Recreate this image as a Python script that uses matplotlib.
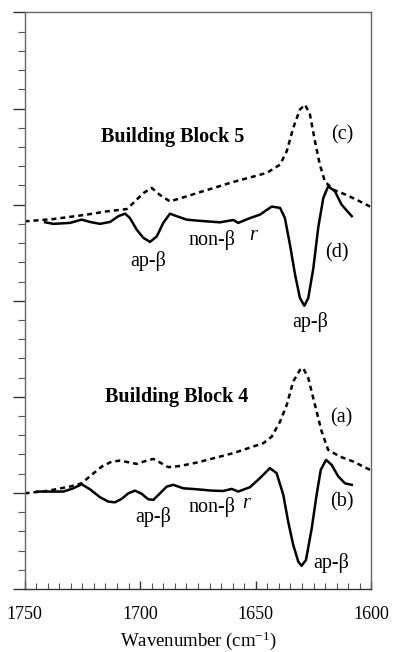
import matplotlib
matplotlib.use("Agg")
import matplotlib.pyplot as plt
from matplotlib.ticker import MultipleLocator

plt.rcParams['font.family'] = ['Liberation Serif', 'DejaVu Serif']
plt.rcParams['mathtext.fontset'] = 'custom'
plt.rcParams['mathtext.rm'] = 'Liberation Serif'
plt.rcParams['mathtext.it'] = 'Liberation Serif:italic'
plt.rcParams['mathtext.bf'] = 'Liberation Serif:bold'

# Curve (c): Building Block 5, dashed
c_x = [1750, 1737.5, 1723.1, 1714.5, 1705.8, 1703, 1698.6, 1695, 1691.4, 1687.1, 1679.9, 1674.1,
       1659.7, 1645.3, 1639.5, 1636.6, 1633.8, 1630.9, 1628.7, 1626.6, 1624.4, 1622.3, 1620.1,
       1616.5, 1610.7, 1605, 1600.6]
c_y = [19.13, 19.25, 19.48, 19.65, 19.77, 20.08, 20.6, 20.87, 20.5, 20.17, 20.43, 20.65,
       21.18, 21.65, 22.08, 22.78, 24.0, 24.95, 25.2, 24.7, 23.3, 22.08, 21.2,
       20.78, 20.5, 20.17, 19.9]

# Curve (d): Building Block 5, solid
d_x = [1741.1, 1737.5, 1730.3, 1725.3, 1721.7, 1717.4, 1713, 1709.4, 1706.5, 1704.4, 1701.5, 1698.6,
       1695.7, 1692.8, 1690, 1687.1, 1684.2, 1679.9, 1675.5, 1670, 1665.5, 1659.7, 1657.6, 1652.5,
       1648.2, 1643.1, 1639.5, 1637.4, 1635.2, 1633, 1630.9, 1629, 1627.3, 1625.1, 1623, 1620.8,
       1618.7, 1615.8, 1612.9, 1608.5]
d_y = [19.08, 19.0, 19.05, 19.22, 19.1, 19.0, 19.1, 19.4, 19.53, 19.3, 18.7, 18.27,
       18.06, 18.35, 19.05, 19.53, 19.4, 19.22, 19.17, 19.12, 19.08, 19.2, 19.05, 19.3,
       19.48, 19.9, 19.83, 19.3, 17.9, 16.35, 15.14, 14.74, 15.14, 16.7, 18.8, 20.35,
       20.95, 20.7, 20.0, 19.4]

# Curve (a): Building Block 4, dashed
a_x = [1750, 1740.4, 1730.3, 1725.3, 1721, 1716.6, 1712.3, 1708.7, 1704.4, 1701.5, 1697.2, 1694.3,
       1691.4, 1687.8, 1682.8, 1675.5, 1659.7, 1646.7, 1643.1, 1639.5, 1636.6, 1633.8, 1630.9,
       1629.5, 1627.3, 1624.4, 1621.5, 1618.7, 1613.6, 1607.8, 1600.6]
a_y = [4.98, 5.1, 5.33, 5.5, 5.94, 6.37, 6.63, 6.68, 6.58, 6.51, 6.68, 6.77,
       6.58, 6.34, 6.4, 6.58, 7.07, 7.59, 7.93, 8.71, 9.58, 10.8, 11.4,
       11.5, 10.97, 9.58, 8.19, 7.24, 6.89, 6.63, 6.2]

# Curve (b): Building Block 4, solid
b_x = [1744.6, 1739, 1733.2, 1728.9, 1725.3, 1721.7, 1717.4, 1713.8, 1710.9, 1708, 1705.1, 1702.2,
       1699.3, 1696.5, 1694.3, 1691.4, 1688.5, 1685.7, 1681.3, 1675.5, 1669, 1664.1, 1660.4,
       1657.6, 1652.5, 1648.2, 1643.9, 1641, 1638.1, 1636, 1633.8, 1631.6, 1630.2, 1628.3,
       1625.8, 1623.7, 1621.9, 1619.6, 1617.2, 1614.3, 1611.4, 1608.5]
b_y = [5.07, 5.07, 5.07, 5.24, 5.45, 5.19, 4.78, 4.55, 4.51, 4.69, 4.98, 5.12,
       4.95, 4.67, 4.64, 4.98, 5.33, 5.42, 5.24, 5.19, 5.12, 5.1, 5.21,
       5.07, 5.3, 5.77, 6.29, 6.03, 4.9, 3.51, 2.29, 1.42, 1.21, 1.51,
       3.16, 4.9, 6.2, 6.72, 6.46, 5.85, 5.5, 5.42]

x_ticks = [1750, 1700, 1650, 1600]
x_label = "Wavenumber (cm$^{-1}$)"

fig = plt.figure(figsize=(3.96, 6.52), dpi=100)
ax = fig.add_axes([0.0619, 0.0966, 0.876, 0.8843])

dash = (0, (2.0, 1.6))
ax.plot(c_x, c_y, color='black', lw=1.8, linestyle=dash)
ax.plot(d_x, d_y, color='black', lw=1.8, linestyle='-')
ax.plot(a_x, a_y, color='black', lw=1.8, linestyle=dash)
ax.plot(b_x, b_y, color='black', lw=1.8, linestyle='-')

ax.set_xlim(1750, 1600)
ax.set_ylim(0, 30)
ax.set_xticks(x_ticks)
ax.set_xticklabels([str(t) for t in x_ticks])
ax.xaxis.set_minor_locator(MultipleLocator(5))
ax.yaxis.set_major_locator(MultipleLocator(5))
ax.yaxis.set_minor_locator(MultipleLocator(1))
ax.set_yticklabels([])
ax.tick_params(axis='x', which='major', direction='in', length=6, width=1, labelsize=13, pad=12, color='#333333')
ax.tick_params(axis='x', which='minor', direction='in', length=4, width=0.8, color='#555555')
ax.tick_params(axis='y', which='major', direction='out', length=9, width=1, color='#333333')
ax.tick_params(axis='y', which='minor', direction='out', length=5, width=0.8, color='#555555')
for s in ax.spines.values():
    s.set_linewidth(1.0)
ax.spines['left'].set_color('#666666')
ax.spines['bottom'].set_color('#333333')
ax.spines['top'].set_color('#666666')
ax.spines['right'].set_color('#666666')
ax.set_xlabel(x_label, fontsize=13.5, labelpad=5)

fs = 14.5
ax.text(1685.8, 23.54, "Building Block 5", fontsize=14.5, fontweight='bold', ha='center', va='center')
ax.text(1612.5, 23.65, "(c)", fontsize=fs, ha='center', va='center')
ax.text(1615, 17.5, "(d)", fontsize=fs, ha='center', va='center')
ax.text(1696.5, 17.05, "ap-β", fontsize=fs, ha='center', va='center')
ax.text(1669.1, 18.18, "non-β", fontsize=fs, ha='center', va='center')
ax.text(1651.1, 18.4, "r", fontsize=fs, ha='center', va='center', style='italic')
ax.text(1626.6, 13.9, "ap-β", fontsize=fs, ha='center', va='center')

ax.text(1684.1, 9.98, "Building Block 4", fontsize=14.5, fontweight='bold', ha='center', va='center')
ax.text(1612.9, 8.92, "(a)", fontsize=fs, ha='center', va='center')
ax.text(1612.9, 4.55, "(b)", fontsize=fs, ha='center', va='center')
ax.text(1694.3, 3.77, "ap-β", fontsize=fs, ha='center', va='center')
ax.text(1669.1, 4.29, "non-β", fontsize=fs, ha='center', va='center')
ax.text(1654, 4.43, "r", fontsize=fs, ha='center', va='center', style='italic')
ax.text(1617.6, 1.37, "ap-β", fontsize=fs, ha='center', va='center')

fig.savefig("out.png", dpi=100)
